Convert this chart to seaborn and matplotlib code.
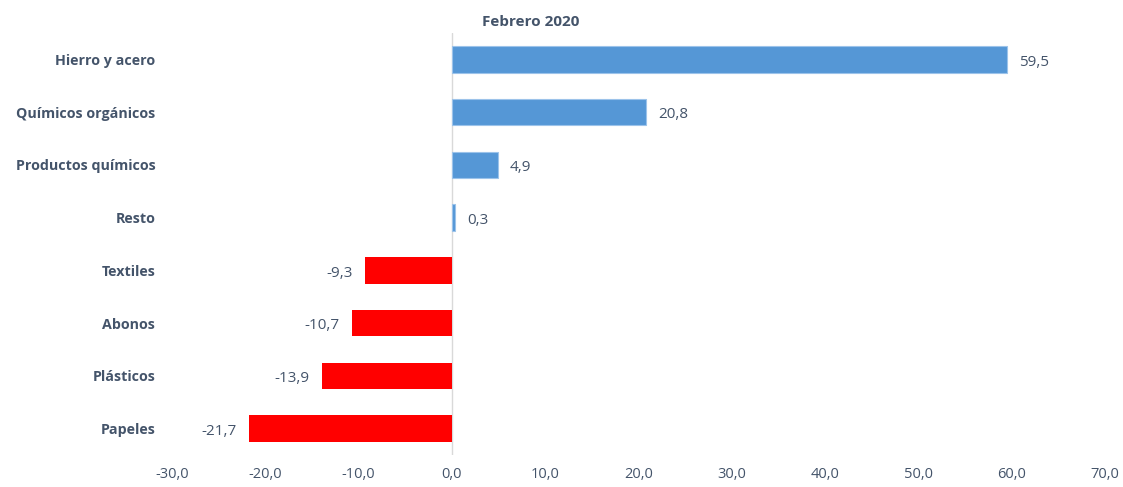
import matplotlib
matplotlib.use("Agg")
import matplotlib.pyplot as plt
import pandas as pd
import seaborn as sns

categorias = ["Hierro y acero", "Químicos orgánicos", "Productos químicos", "Resto",
              "Textiles", "Abonos", "Plásticos", "Papeles"]
valores = [59.5, 20.8, 4.9, 0.3, -9.3, -10.7, -13.9, -21.7]
ticks_x = [-30, -20, -10, 0, 10, 20, 30, 40, 50, 60, 70]
titulo = "Febrero 2020"

TEXTO = "#44546A"
AZUL = "#5597D6"
ROJO = "#FF0000"


def main() -> None:
    sns.set_theme(style="white")
    plt.rcParams["font.family"] = ["Open Sans", "DejaVu Sans"]

    df = pd.DataFrame({"categoria": categorias, "valor": valores})
    df["signo"] = ["pos" if v >= 0 else "neg" for v in df["valor"]]

    fig = plt.figure(figsize=(11.23, 4.87), dpi=100)
    ax = fig.add_axes([172 / 1123, 1 - 455 / 487, (1105 - 172) / 1123, (455 - 33) / 487])

    sns.barplot(
        data=df, x="valor", y="categoria", hue="signo",
        palette={"pos": AZUL, "neg": ROJO}, orient="h",
        width=0.5, dodge=False, legend=False, ax=ax,
        edgecolor="none", saturation=1,
    )
    # borde claro en las barras azules
    for patch in ax.patches:
        if patch.get_width() > 0:
            patch.set_edgecolor("#9CC3EA")
            patch.set_linewidth(0.8)

    ax.set_xlim(-30, 70)
    ax.set_xticks(ticks_x)
    ax.set_xticklabels([f"{t:.1f}".replace(".", ",") for t in ticks_x],
                       color=TEXTO, fontsize=10.5)
    ax.tick_params(axis="x", length=0, pad=9)
    ax.tick_params(axis="y", length=0, pad=12)
    for lbl in ax.get_yticklabels():
        lbl.set_fontweight("bold")
        lbl.set_color(TEXTO)
        lbl.set_fontsize(10.3)
    ax.set_xlabel("")
    ax.set_ylabel("")
    for s in ax.spines.values():
        s.set_visible(False)
    ax.axvline(0, color="#D9D9D9", linewidth=1, zorder=0)

    for i, v in enumerate(valores):
        txt = f"{v:.1f}".replace(".", ",")
        if v >= 0:
            ax.annotate(txt, (v, i), xytext=(9, -2), textcoords="offset points",
                        ha="left", va="center", color=TEXTO, fontsize=11)
        else:
            ax.annotate(txt, (v, i), xytext=(-9, -2), textcoords="offset points",
                        ha="right", va="center", color=TEXTO, fontsize=11)

    fig.text(531 / 1123, 1 - 22 / 487, titulo, ha="center", va="center",
             fontsize=11, fontweight="bold", color=TEXTO)

    fig.savefig("out.png", dpi=100)
    plt.close(fig)


if __name__ == "__main__":
    main()
